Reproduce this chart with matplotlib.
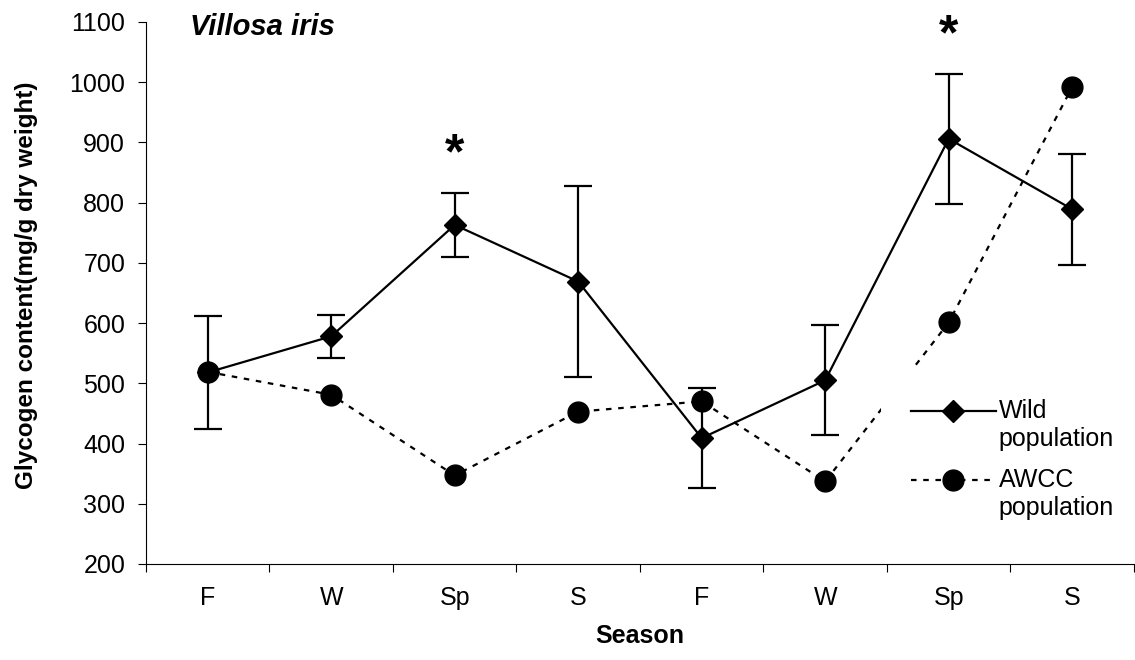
import numpy as np
import matplotlib
matplotlib.use("Agg")
import matplotlib.pyplot as plt
from matplotlib.lines import Line2D
from matplotlib.legend_handler import HandlerLine2D

plt.rcParams['font.family'] = ['Liberation Sans', 'DejaVu Sans']

seasons = ['F', 'W', 'Sp', 'S', 'F', 'W', 'Sp', 'S']
wild = [518, 578, 763, 669, 409, 505, 906, 789]
wild_err = [94, 36, 53, 158, 83, 91, 108, 92]
awcc = [519, 481, 347, 453, 470, 337, 601, 992]
signif = [2, 6]  # seasons marked with an asterisk
signif_y = [857, 1054]


class FirstLineHandler(HandlerLine2D):
    # put the legend line level with the first line of a two-line label
    def create_artists(self, legend, orig_handle, xdescent, ydescent,
                       width, height, fontsize, trans):
        artists = super().create_artists(legend, orig_handle, xdescent, ydescent,
                                         width, height, fontsize, trans)
        for a in artists:
            a.set_ydata(np.asarray(a.get_ydata()) + 0.6 * fontsize)
        return artists


wild_style = dict(color='black', lw=1.6, marker='D', ms=11)
awcc_style = dict(color='black', lw=1.6, linestyle=(0, (2.5, 3)), marker='o', ms=15)

fig = plt.figure(figsize=(11.35, 6.6), dpi=100)
ax = fig.add_axes([0.1286, 0.1455, 0.8705, 0.8212])

x = np.arange(len(seasons))
ax.errorbar(x, wild, yerr=wild_err, elinewidth=1.6, capsize=10, capthick=1.6,
            zorder=3, **wild_style)
ax.plot(x, awcc, zorder=4, **awcc_style)

for i, y in zip(signif, signif_y):
    ax.text(i, y, '*', ha='center', va='baseline', fontsize=36, fontweight='bold')

ax.set_xlim(-0.5, len(seasons) - 0.5)
ax.set_ylim(200, 1100)
ax.set_yticks(np.arange(200, 1101, 100))
ax.set_xticks(np.arange(-0.5, len(seasons), 1.0))
ax.set_xticklabels([])
ax.set_xticks(x, minor=True)
ax.set_xticklabels(seasons, minor=True)
ax.tick_params(axis='both', which='major', direction='out', length=6,
               width=0.8, labelsize=18, pad=9)
ax.tick_params(axis='x', which='minor', length=0, labelsize=18, pad=16)

for side in ['top', 'right']:
    ax.spines[side].set_visible(False)
for side in ['left', 'bottom']:
    ax.spines[side].set_linewidth(0.8)

ax.set_xlabel('Season', fontsize=18, fontweight='bold', labelpad=10)
ax.set_ylabel('Glycogen content(mg/g dry weight)', fontsize=17.5, fontweight='bold')
ax.yaxis.set_label_coords(-0.109, 0.515)

ax.text(0.0445, 0.976, 'Villosa iris', transform=ax.transAxes, fontsize=21,
        fontweight='bold', fontstyle='italic', va='baseline')

# white legend box with no border; it hides part of the AWCC line behind it
handles = [Line2D([], [], **wild_style), Line2D([], [], **awcc_style)]
labels = ['Wild\npopulation', 'AWCC\npopulation']
leg = ax.legend(handles, labels, loc='upper left', bbox_to_anchor=(0.7762, 0.4409),
                bbox_transform=fig.transFigure, fontsize=18, frameon=True,
                fancybox=False, borderpad=1.2, handlelength=3.4,
                handletextpad=0.1, labelspacing=0.7, borderaxespad=0,
                handler_map={Line2D: FirstLineHandler(numpoints=1)})
leg.get_frame().set_facecolor('white')
leg.get_frame().set_edgecolor('none')
leg.get_frame().set_alpha(1)

fig.savefig('out.png', dpi=100)
